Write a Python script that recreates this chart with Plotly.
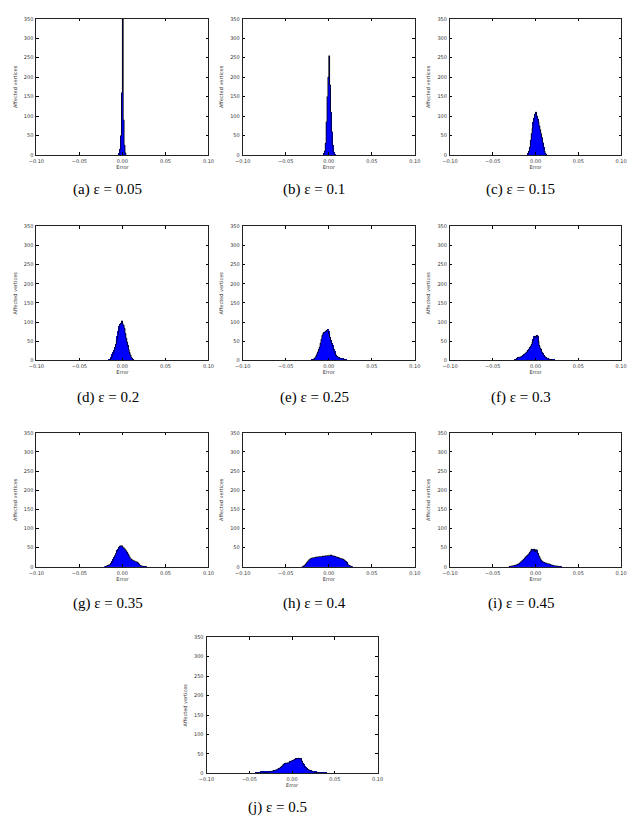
import plotly.graph_objects as go

BIN_W = 0.001

# Histogram counts (bin width 0.001), with left edge of first bin
start_a = -0.004
counts_a = [3, 15, 50, 160, 350, 90, 25, 5]

start_b = -0.006
counts_b = [3, 10, 30, 85, 150, 200, 255, 180, 110, 60, 25, 8, 2]

start_c = -0.009
counts_c = [3, 10, 20, 38, 55, 68, 84, 95, 105, 110, 100, 93, 85, 75, 65, 55, 45, 32, 20, 10, 4, 1]

start_d = -0.016
counts_d = [1, 2, 4, 8, 15, 20, 26, 33, 42, 52, 62, 75, 88, 95, 97, 103, 95, 92, 84, 70,
            58, 48, 38, 28, 20, 14, 8, 4, 2]

start_e = -0.020
counts_e = [1, 2, 3, 5, 8, 12, 17, 22, 28, 35, 45, 55, 65, 70, 72, 74, 76, 78, 80, 76,
            68, 60, 52, 45, 38, 30, 24, 18, 14, 11, 9, 7, 6, 5, 5, 4, 4, 3, 2, 1]

start_f = -0.025
counts_f = [1, 2, 3, 5, 7, 8, 8, 9, 10, 11, 13, 15, 17, 19, 21, 24, 27, 30, 33, 37,
            42, 48, 55, 62, 63, 60, 65, 64, 50, 38, 32, 28, 22, 18, 14, 11, 9, 7, 5, 4,
            3, 3, 2, 2, 1, 1, 1]

start_g = -0.020
counts_g = [1, 2, 3, 4, 5, 6, 8, 11, 15, 20, 25, 30, 35, 40, 44, 47, 52, 55, 54, 55,
            52, 50, 48, 45, 42, 38, 34, 30, 26, 22, 20, 18, 17, 16, 15, 14, 13, 12, 10, 7,
            4, 3, 2, 2, 1, 1, 1, 1]

start_h = -0.031
counts_h = [1, 2, 3, 5, 8, 11, 14, 17, 19, 21, 22, 23, 23, 24, 24, 25, 25, 26, 26, 26,
            27, 27, 27, 28, 27, 28, 28, 29, 28, 29, 30, 29, 30, 31, 30, 29, 28, 28, 27, 26,
            25, 25, 24, 23, 22, 22, 21, 20, 19, 17, 15, 12, 9, 6, 4, 3, 2, 1]

start_i = -0.031
counts_i = [1, 1, 2, 2, 3, 3, 4, 4, 5, 6, 7, 8, 10, 12, 14, 16, 18, 20, 23, 26,
            28, 30, 32, 35, 38, 42, 46, 44, 42, 46, 40, 45, 44, 36, 31, 27, 22, 18, 15, 13,
            12, 11, 10, 10, 9, 8, 8, 7, 6, 5, 4, 4, 3, 3, 2, 2, 2, 1, 1, 1, 1]

start_j = -0.043
counts_j = [1, 1, 1, 1, 2, 2, 3, 4, 4, 3, 3, 3, 3, 3, 3, 3, 4, 4, 5, 5,
            6, 7, 7, 8, 9, 10, 11, 12, 13, 15, 17, 19, 22, 24, 25, 26, 26, 27, 26, 28,
            30, 31, 32, 33, 34, 35, 36, 38, 37, 38, 39, 38, 37, 38, 32, 26, 22, 18, 15, 13,
            11, 10, 9, 8, 7, 6, 5, 4, 4, 3, 3, 2, 2, 2, 1, 1, 1, 1, 1, 1, 1, 1, 1]

captions = ["(a) ε = 0.05", "(b) ε = 0.1", "(c) ε = 0.15", "(d) ε = 0.2", "(e) ε = 0.25",
            "(f) ε = 0.3", "(g) ε = 0.35", "(h) ε = 0.4", "(i) ε = 0.45", "(j) ε = 0.5"]

x_tick_vals = [-0.10, -0.05, 0.00, 0.05, 0.10]
x_tick_text = ["\u22120.10", "\u22120.05", "0.00", "0.05", "0.10"]
y_tick_vals = [0, 50, 100, 150, 200, 250, 300, 350]

panels = [(start_a, counts_a), (start_b, counts_b), (start_c, counts_c),
          (start_d, counts_d), (start_e, counts_e), (start_f, counts_f),
          (start_g, counts_g), (start_h, counts_h), (start_i, counts_i),
          (start_j, counts_j)]

W, H = 632, 817
# plot boxes in pixels: (x0, x1, y0, y1)
col_x = [(29, 205), (240, 416), (452, 627)]
row_y = [(16, 153), (225, 360), (433, 568)]
boxes = []
for r in range(3):
    for c in range(3):
        boxes.append((col_x[c][0], col_x[c][1], row_y[r][0], row_y[r][1]))
boxes.append((203, 378, 639, 776))
cap_y = [188, 188, 188, 397, 397, 397, 605, 605, 605, 810]

fig = go.Figure()
layout = dict(width=W, height=H, margin=dict(l=0, r=0, t=0, b=0),
              paper_bgcolor="white", plot_bgcolor="white", showlegend=False,
              bargap=0, annotations=[])

tick_font = dict(family="DejaVu Sans", size=5, color="#333")
title_font = dict(family="DejaVu Sans", size=5, color="#333")
for i, ((st, cnt), (x0, x1, y0, y1)) in enumerate(zip(panels, boxes)):
    n = i + 1
    xa = "x" if n == 1 else f"x{n}"
    ya = "y" if n == 1 else f"y{n}"
    edges = [st + k * BIN_W for k in range(len(cnt) + 1)]
    centers = [e + BIN_W / 2 for e in edges[:-1]]
    fig.add_trace(go.Bar(x=centers, y=cnt, width=BIN_W, marker=dict(color="#0000ff", line=dict(width=0)),
                         xaxis=xa, yaxis=ya))
    fig.add_trace(go.Scatter(x=edges + [edges[-1]], y=[0] + cnt + [0], mode="lines",
                             line=dict(color="black", width=0.8, shape="vh"),
                             xaxis=xa, yaxis=ya, cliponaxis=True))
    axx = dict(domain=[x0 / W, x1 / W], range=[-0.1, 0.1], anchor=ya,
               tickvals=x_tick_vals, ticktext=x_tick_text, ticks="inside", ticklen=2.5,
               tickcolor="black", showline=True, linecolor="#222", linewidth=1, mirror="allticks",
               showgrid=False, zeroline=False, tickfont=tick_font, ticklabelstandoff=1,
               title=dict(text="Error", font=title_font, standoff=2))
    axy = dict(domain=[1 - y1 / H, 1 - y0 / H], range=[0, 350], anchor=xa,
               tickvals=y_tick_vals, ticks="inside", ticklen=2.5,
               tickcolor="black", showline=True, linecolor="#222", linewidth=1, mirror="allticks",
               showgrid=False, zeroline=False, tickfont=tick_font, ticklabelstandoff=1,
               title=dict(text="Affected vertices", font=title_font, standoff=6))
    layout["xaxis" if n == 1 else f"xaxis{n}"] = axx
    layout["yaxis" if n == 1 else f"yaxis{n}"] = axy
    layout["annotations"].append(dict(text=captions[i], x=((x0 + x1) / 2 - 15) / W, y=1 - cap_y[i] / H,
                                      xref="paper", yref="paper", showarrow=False,
                                      xanchor="center", yanchor="middle",
                                      font=dict(family="Liberation Serif", size=15, color="black")))

fig.update_layout(**layout)
fig.write_html("out.html")
